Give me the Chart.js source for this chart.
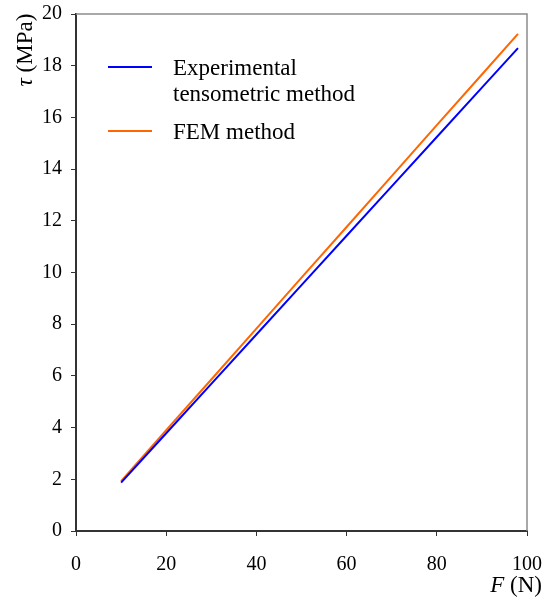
<!DOCTYPE html>
<html lang="en">

<head>
    <meta charset="UTF-8">
    <title>Shear stress vs force</title>
    <style>
        body { margin: 0; background: #fff; }
        #wrap { width: 549px; height: 604px; }
    </style>
</head>

<body>
    <div id="wrap">
        <canvas id="myChart" width="549" height="604"></canvas>
    </div>

    <script src="https://cdn.jsdelivr.net/npm/chart.js"></script>

    <script>
        // data
        const forceN = [10, 20, 30, 40, 50, 60, 70, 80, 90, 98];
        const expTau = [1.87, 3.78, 5.69, 7.60, 9.51, 11.42, 13.33, 15.24, 17.15, 18.68];
        const femTau = [1.93, 3.90, 5.86, 7.83, 9.80, 11.76, 13.73, 15.70, 17.66, 19.23];
        const seriesNames = [['Experimental', 'tensometric method'], ['FEM method']];
        const xTicks = [0, 20, 40, 60, 80, 100];
        const yTicks = [0, 2, 4, 6, 8, 10, 12, 14, 16, 18, 20];

        const serif = '"Liberation Serif", "Times New Roman", serif';
        const axisColor = '#333';

        // frame, legend and axis titles (mixed italic text)
        const extras = {
            id: 'extras',
            afterDraw(chart) {
                const ctx = chart.ctx;
                const a = chart.chartArea;
                ctx.save();

                // grey top and right border
                ctx.strokeStyle = '#8c8c8c';
                ctx.lineWidth = 1.5;
                ctx.beginPath();
                ctx.moveTo(a.left, a.top);
                ctx.lineTo(a.right, a.top);
                ctx.lineTo(a.right, a.bottom);
                ctx.stroke();

                // legend
                ctx.font = '23px ' + serif;
                ctx.fillStyle = '#000';
                ctx.textBaseline = 'alphabetic';
                const rows = [67, 131];
                chart.data.datasets.forEach((ds, i) => {
                    const y = rows[i];
                    ctx.strokeStyle = ds.borderColor;
                    ctx.lineWidth = 2;
                    ctx.beginPath();
                    ctx.moveTo(a.left + 32, y);
                    ctx.lineTo(a.left + 76, y);
                    ctx.stroke();
                    seriesNames[i].forEach((t, j) => {
                        ctx.fillText(t, a.left + 97, y + 8 + j * 26);
                    });
                });

                // y title: tau (MPa)
                ctx.translate(26, 50);
                ctx.rotate(-Math.PI / 2);
                ctx.textBaseline = 'middle';
                ctx.font = 'italic 23px ' + serif;
                const w1 = ctx.measureText('\u03c4').width;
                ctx.font = '23px ' + serif;
                const w2 = ctx.measureText(' (MPa)').width;
                let x0 = -(w1 + w2) / 2;
                ctx.font = 'italic 23px ' + serif;
                ctx.textAlign = 'left';
                ctx.fillText('\u03c4', x0, 0);
                ctx.font = '23px ' + serif;
                ctx.fillText(' (MPa)', x0 + w1, 0);
                ctx.setTransform(1, 0, 0, 1, 0, 0);

                // x title: F (N)
                ctx.textBaseline = 'alphabetic';
                ctx.font = '23px ' + serif;
                const n = ctx.measureText(' (N)').width;
                ctx.font = 'italic 23px ' + serif;
                const f = ctx.measureText('F').width;
                const right = 542;
                ctx.fillText('F', right - n - f, 592);
                ctx.font = '23px ' + serif;
                ctx.fillText(' (N)', right - n, 592);

                ctx.restore();
            }
        };

        new Chart(document.getElementById('myChart'), {
            type: 'line',
            data: {
                datasets: [{
                    label: 'Experimental tensometric method',
                    data: forceN.map((x, i) => ({ x: x, y: expTau[i] })),
                    borderColor: '#0000ff',
                    borderWidth: 2,
                    pointRadius: 0,
                    tension: 0
                }, {
                    label: 'FEM method',
                    data: forceN.map((x, i) => ({ x: x, y: femTau[i] })),
                    borderColor: '#ff6600',
                    borderWidth: 2,
                    pointRadius: 0,
                    tension: 0
                }]
            },
            options: {
                responsive: false,
                animation: false,
                layout: { padding: { top: 14, right: 22, left: 0, bottom: 0 } },
                plugins: {
                    legend: { display: false },
                    tooltip: { enabled: false }
                },
                scales: {
                    x: {
                        type: 'linear',
                        min: xTicks[0],
                        max: xTicks[xTicks.length - 1],
                        afterBuildTicks: (s) => { s.ticks = xTicks.map(v => ({ value: v })); },
                        afterFit: (s) => { s.height = 73; s.paddingLeft = 0; s.paddingRight = 0; },
                        ticks: { color: '#000', font: { family: serif, size: 20 }, padding: 17, maxRotation: 0 },
                        grid: { drawOnChartArea: false, tickLength: 5, color: axisColor, lineWidth: 1 },
                        border: { color: axisColor, width: 2 }
                    },
                    y: {
                        min: yTicks[0],
                        max: yTicks[yTicks.length - 1],
                        afterBuildTicks: (s) => { s.ticks = yTicks.map(v => ({ value: v })); },
                        afterFit: (s) => { s.width = 76; s.paddingTop = 0; s.paddingBottom = 0; },
                        ticks: { color: '#000', font: { family: serif, size: 20 }, padding: 9 },
                        grid: { drawOnChartArea: false, tickLength: 5, color: axisColor, lineWidth: 1 },
                        border: { color: axisColor, width: 2 }
                    }
                }
            },
            plugins: [extras]
        });
    </script>
</body>

</html>
